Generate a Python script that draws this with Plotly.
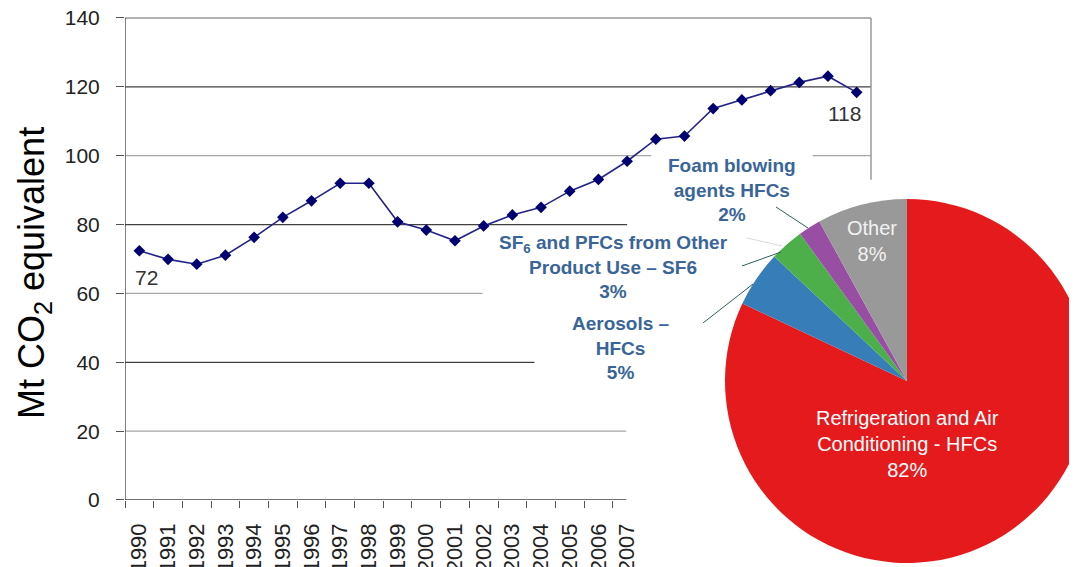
import plotly.graph_objects as go

# line chart data (Mt CO2 equivalent)
years = list(range(1990, 2016))
emissions = [72.4, 69.9, 68.5, 71.1, 76.3, 82.1, 86.9, 92.0, 92.0, 80.8,
             78.4, 75.3, 79.6, 82.8, 85.0, 89.7, 93.1, 98.4, 104.8, 105.7,
             113.7, 116.2, 118.9, 121.3, 123.1, 118.4]
year_labels = [str(y) for y in range(1990, 2008)]
y_ticks = [0, 20, 40, 60, 80, 100, 120, 140]

# pie data (share of emissions, %)
pie_labels = ["Refrigeration and Air Conditioning - HFCs", "Aerosols – HFCs",
              "SF6 and PFCs from Other Product Use – SF6", "Foam blowing agents HFCs", "Other"]
pie_values = [82, 5, 3, 2, 8]
pie_colors = ["#E41A1C", "#377EB8", "#4DAF4A", "#984EA3", "#999999"]

# the page puts the figure 8px in from the top left, so the figure is a bit larger
# than the window and positions below are given in window pixels
W, H = 1095, 575
OFF = 8
FONT = "Arial, Liberation Sans, sans-serif"
LABEL_BLUE = "#3A6598"
PX_PER_UNIT = (500 - 18) / 140.0
PX_PER_YEAR = (871 - 125) / 26.0


def px(x, y):
    # window pixel -> paper fraction
    return (x - OFF) / W, (H - (y - OFF)) / H


fig = go.Figure()

fig.add_trace(go.Scatter(
    x=years, y=emissions, mode="lines+markers",
    line=dict(color="#23238A", width=1.6),
    marker=dict(symbol="diamond", size=9, color="#000070"),
    showlegend=False, hoverinfo="x+y",
))

# pie: centre (907, 381), radius 182 in window pixels
cx, cy = px(907, 381)
rx, ry = 182 / W, 182 / H
fig.add_trace(go.Pie(
    labels=pie_labels, values=pie_values, sort=False, direction="clockwise",
    marker=dict(colors=pie_colors, line=dict(width=0)),
    textinfo="none", showlegend=False,
    domain=dict(x=[cx - rx, cx + rx], y=[cy - ry, cy + ry]),
))

# gridlines: (value, end year, colour) - parts hidden behind the pie labels
grid = [(120, 2015.5, "#404040"), (100, 2007.85, "#a6a6a6"),
        (80, 2007.0, "#404040"), (60, 2001.96, "#a6a6a6"), (40, 2003.77, "#404040"),
        (20, 2006.97, "#a6a6a6"), (0, 2006.97, "#404040")]
shapes = []
for val, x_end, col in grid:
    shapes.append(dict(type="line", xref="x", yref="y", x0=1989.5, x1=x_end, y0=val, y1=val,
                       line=dict(color=col, width=1.3), layer="below"))
shapes.append(dict(type="line", xref="x", yref="y", x0=2013.46, x1=2015.5, y0=100, y1=100,
                   line=dict(color="#a6a6a6", width=1.3), layer="below"))
# top and right border of the plot frame
shapes.append(dict(type="line", xref="x", yref="y", x0=1989.5, x1=2015.5, y0=140, y1=140,
                   line=dict(color="#999999", width=1.5)))
shapes.append(dict(type="line", xref="x", yref="y", x0=2015.5, x1=2015.5, y0=93, y1=140,
                   line=dict(color="#999999", width=1.5)))
# y axis line only up to 140
shapes.append(dict(type="line", xref="x", yref="y", x0=1989.5, x1=1989.5, y0=0, y1=140,
                   line=dict(color="#404040", width=1.3)))

# leader lines from the pie labels
for (xa, ya), (xb, yb), col in [((776, 207), (808, 228), "#2E5E5E"),
                                ((742, 266), (781, 252), "#2E5E5E"),
                                ((747, 238), (782, 246), "#d9d9d9"),
                                ((703, 323), (753, 284), "#2E5E5E")]:
    x0, y0 = px(xa, ya)
    x1, y1 = px(xb, yb)
    shapes.append(dict(type="line", xref="paper", yref="paper", x0=x0, y0=y0, x1=x1, y1=y1,
                       line=dict(color=col, width=1)))

annotations = []
# end-point value labels
annotations.append(dict(x=years[0], y=emissions[0], xref="x", yref="y", text=str(round(emissions[0])),
                        showarrow=False, xshift=7, yshift=-27, font=dict(size=21, color="#333333")))
annotations.append(dict(x=years[-1], y=emissions[-1], xref="x", yref="y", text=str(round(emissions[-1])),
                        showarrow=False, xshift=-12, yshift=-21, font=dict(size=21, color="#333333")))

# y axis title
tx, ty = px(34, 273)
annotations.append(dict(x=tx, y=ty, xref="paper", yref="paper", text="Mt CO<sub>2</sub> equivalent",
                        textangle=-90, showarrow=False, xanchor="center", yanchor="middle",
                        font=dict(size=36, color="#000000")))

# pie labels
pie_text = [
    ((907, 444), "Refrigeration and Air<br>Conditioning - HFCs<br>82%", "white", False),
    ((872, 241), "Other<br>8%", "#f2f2f2", False),
    ((732, 190), "Foam blowing<br>agents HFCs<br>2%", LABEL_BLUE, True),
    ((613, 267), "SF<sub>6</sub> and PFCs from Other<br>Product Use – SF6<br>3%", LABEL_BLUE, True),
    ((620, 348), "Aerosols –<br>HFCs<br>5%", LABEL_BLUE, True),
]
for (xp, yp), txt, col, bold in pie_text:
    ax, ay = px(xp, yp)
    annotations.append(dict(x=ax, y=ay, xref="paper", yref="paper", text=f"<b>{txt}</b>" if bold else txt,
                            showarrow=False, align="center", xanchor="center", yanchor="middle",
                            font=dict(size=19 if bold else 20, color=col)))

# small padding on the top and right so the frame lines at 140 / 2015.5 are not clipped
pad_y, pad_x = 1.0, 0.2
x_lo, _ = px(125, 0)
x_hi, _ = px(871 + pad_x * PX_PER_YEAR, 0)
_, y_hi = px(0, 18 - pad_y * PX_PER_UNIT)
_, y_lo = px(0, 500)

fig.update_layout(
    width=W, height=H,
    margin=dict(l=0, r=0, t=0, b=0),
    paper_bgcolor="white", plot_bgcolor="white",
    font=dict(family=FONT, color="#222222"),
    shapes=shapes, annotations=annotations,
    xaxis=dict(
        domain=[x_lo, x_hi], range=[1989.5, 2015.5 + pad_x],
        tickmode="array", tickvals=[int(v) for v in year_labels], ticktext=year_labels,
        tickangle=-90, ticks="", ticklabelstandoff=18, showgrid=False, zeroline=False,
        showline=False, automargin=False, tickfont=dict(size=22, color="#222222"),
        ticklabeloverflow="allow",
        minor=dict(tickmode="array", tickvals=[y - 0.5 for y in range(1990, 2008)],
                   ticks="outside", ticklen=7, tickcolor="#555555", showgrid=False),
    ),
    yaxis=dict(
        domain=[y_lo, y_hi], range=[0, 140 + pad_y],
        tickmode="array", tickvals=y_ticks, ticks="outside", ticklen=8, tickcolor="#555555",
        showgrid=False, zeroline=False, showline=False, ticklabeloverflow="allow",
        automargin=False, tickfont=dict(size=21, color="#222222"), ticklabelstandoff=12,
    ),
)

fig.write_html("out.html")
